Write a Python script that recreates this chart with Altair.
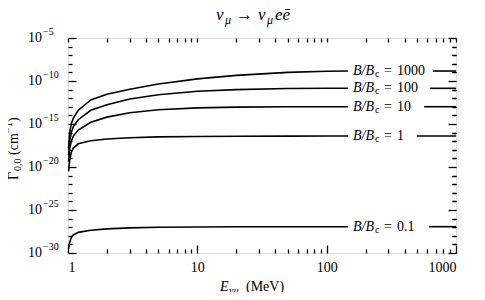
import altair as alt
import pandas as pd

# ---------------- data ----------------
E_pts = [1.01, 1.03, 1.06, 1.1, 1.2, 1.5, 2, 3, 5, 10, 20, 50, 100, 146]
series = ["1000", "100", "10", "1", "0.1"]
log_gamma = {
    "1000": [-17.8, -16.0, -15.0, -14.3, -13.4, -12.2, -11.55, -10.95, -10.35, -9.75, -9.35, -9.0, -8.87, -8.84],
    "100":  [-18.6, -17.0, -16.0, -15.3, -14.5, -13.4, -12.75, -12.1, -11.6, -11.2, -11.0, -10.88, -10.85, -10.85],
    "10":   [-19.4, -17.9, -17.0, -16.4, -15.7, -14.8, -14.2, -13.7, -13.35, -13.12, -13.04, -13.0, -12.99, -12.99],
    "1":    [-20.5, -19.2, -18.3, -17.8, -17.3, -16.95, -16.75, -16.6, -16.5, -16.45, -16.42, -16.41, -16.4, -16.4],
    "0.1":  [-29.5, -28.8, -28.2, -27.9, -27.6, -27.35, -27.2, -27.08, -27.0, -26.97, -26.95, -26.94, -26.94, -26.94],
}
label_E = 160
tail_start = {"1000": 665, "100": 631, "10": 567, "1": 500, "0.1": 620}
tail_end = 1000

x_major = [1, 10, 100, 1000]
x_minor = [2, 3, 4, 5, 6, 7, 8, 9, 20, 30, 40, 50, 60, 70, 80, 90,
           200, 300, 400, 500, 600, 700, 800, 900]
y_major = [1e-5, 1e-10, 1e-15, 1e-20, 1e-25, 1e-30]
y_exponents = ["\u22125", "\u221210", "\u221215", "\u221220", "\u221225", "\u221230"]
y_minor = [1e-6, 1e-7, 1e-8, 1e-9, 1e-11, 1e-12, 1e-13, 1e-14, 1e-16, 1e-17,
           1e-18, 1e-19, 1e-21, 1e-22, 1e-23, 1e-24, 1e-26, 1e-27, 1e-28, 1e-29]

# ---------------- tables ----------------
rows = []
for s in series:
    for e, g in zip(E_pts, log_gamma[s]):
        rows.append({"E": e, "G": 10 ** g, "key": s + "-main"})
    end = log_gamma[s][-1]
    rows.append({"E": tail_start[s], "G": 10 ** end, "key": s + "-tail"})
    rows.append({"E": tail_end, "G": 10 ** end, "key": s + "-tail"})
curves = pd.DataFrame(rows)

labels = pd.DataFrame({
    "E": [label_E] * len(series),
    "G": [10 ** log_gamma[s][-1] for s in series],
    "val": series,
})
ylab = pd.DataFrame({"G": y_major, "exp": y_exponents})

# ---------------- layout ----------------
W, H = 388, 215
SERIF = "Liberation Serif, DejaVu Serif, serif"
xscale = alt.Scale(type="log", domain=[1, 1000], nice=False)
yscale = alt.Scale(type="log", domain=[1e-30, 1e-5], nice=False)

x_label_axis = alt.Axis(orient="bottom", values=x_major, format="d", ticks=False, domain=False,
                        grid=False, title=None, labelFont=SERIF, labelFontSize=14,
                        labelColor="black", labelPadding=7)


def tick_axis(orient, offset, values, size):
    return alt.Axis(orient=orient, offset=offset, values=values, tickSize=size, labels=False,
                    domain=False, grid=False, title=None, ticks=True, tickColor="black",
                    tickWidth=1.3)


main = alt.Chart(curves).mark_line(color="black", strokeWidth=1.6).encode(
    x=alt.X("E:Q", scale=xscale, axis=x_label_axis),
    y=alt.Y("G:Q", scale=yscale, axis=tick_axis("right", -W, y_major, 8)),
    detail="key:N",
)


def tick_layer(xo, xoff, yo, yoff, xv, yv, size):
    return alt.Chart(curves).mark_point(opacity=0).encode(
        x=alt.X("E:Q", scale=xscale, axis=tick_axis(xo, xoff, xv, size)),
        y=alt.Y("G:Q", scale=yscale, axis=tick_axis(yo, yoff, yv, size)),
    )


ticks = [
    tick_layer("top", -H, "left", -W, x_major, y_major, 8),
    tick_layer("bottom", -H, "right", -W, x_major, y_minor, 4),
    tick_layer("top", -H, "left", -W, x_minor, y_minor, 4),
    tick_layer("bottom", -H, "left", -W, x_minor, y_minor, 4),
]

# curve labels  B/B_c = value
lab_base = alt.Chart(labels).encode(
    x=alt.X("E:Q", scale=xscale, axis=None),
    y=alt.Y("G:Q", scale=yscale, axis=None),
)
txt = dict(align="left", baseline="middle", font=SERIF, color="black")
lab1 = lab_base.mark_text(fontSize=14, fontStyle="italic", **txt).encode(text=alt.value("B/B"))
lab2 = lab_base.mark_text(fontSize=10, dx=22, dy=3, **txt).encode(text=alt.value("c"))
lab3 = lab_base.mark_text(fontSize=14, dx=31, **txt).encode(text=alt.value("="))
lab4 = lab_base.mark_text(fontSize=14, dx=44, **txt).encode(text="val:N")

# y tick labels 10^exp
ylab_base = alt.Chart(ylab).encode(y=alt.Y("G:Q", scale=yscale, axis=None))
ylab10 = ylab_base.mark_text(align="right", baseline="middle", font=SERIF, fontSize=14,
                             color="black").encode(x=alt.value(-26), text=alt.value("10"))
ylabexp = ylab_base.mark_text(align="left", baseline="middle", font=SERIF, fontSize=10,
                              color="black", dy=-6).encode(x=alt.value(-25), text="exp:N")

one = pd.DataFrame({"k": [0]})


def piece(txt_, xp, yp, size, style="normal", angle=0):
    kw = dict(align="left", baseline="alphabetic", font=SERIF, fontSize=size,
              fontStyle=style, color="black")
    if angle:
        kw["angle"] = angle
    return alt.Chart(one).mark_text(**kw).encode(
        x=alt.value(xp - 68), y=alt.value(yp - 38), text=alt.value(txt_))


title_pieces = [
    piece("\u03bd", 216, 20, 17, "italic"),
    piece("\u03bc", 225, 24, 12, "italic"),
    piece("\u2192", 236, 20, 17),
    piece("\u03bd", 258, 20, 17, "italic"),
    piece("\u03bc", 267, 24, 12, "italic"),
    piece("e\u0113", 275, 20, 17, "italic"),
]
xtitle_pieces = [
    piece("E", 220, 291, 14, "italic"),
    piece("\u03bd\u03bc", 229, 294, 10, "italic"),
    piece("(MeV)", 246, 291, 14),
]
ytitle_pieces = [
    piece("\u0393", 18, 180, 14, angle=270),
    piece("0,0", 21, 171, 10, angle=270),
    piece("(cm", 18, 155, 14, angle=270),
    piece("\u22121", 12, 133, 10, angle=270),
    piece(")", 18, 122, 14, angle=270),
]

chart = alt.layer(
    main, *ticks, lab1, lab2, lab3, lab4, ylab10, ylabexp,
    *title_pieces, *xtitle_pieces, *ytitle_pieces
).resolve_axis(
    x="independent", y="independent"
).properties(
    width=W, height=H,
    autosize=alt.AutoSizeParams(type="none"),
    padding={"left": 60, "top": 30, "right": 21, "bottom": 39},
).configure_view(stroke="black", strokeWidth=1.6).configure(background="white")

chart.save("out.html", embed_options={"renderer": "svg", "actions": False})
